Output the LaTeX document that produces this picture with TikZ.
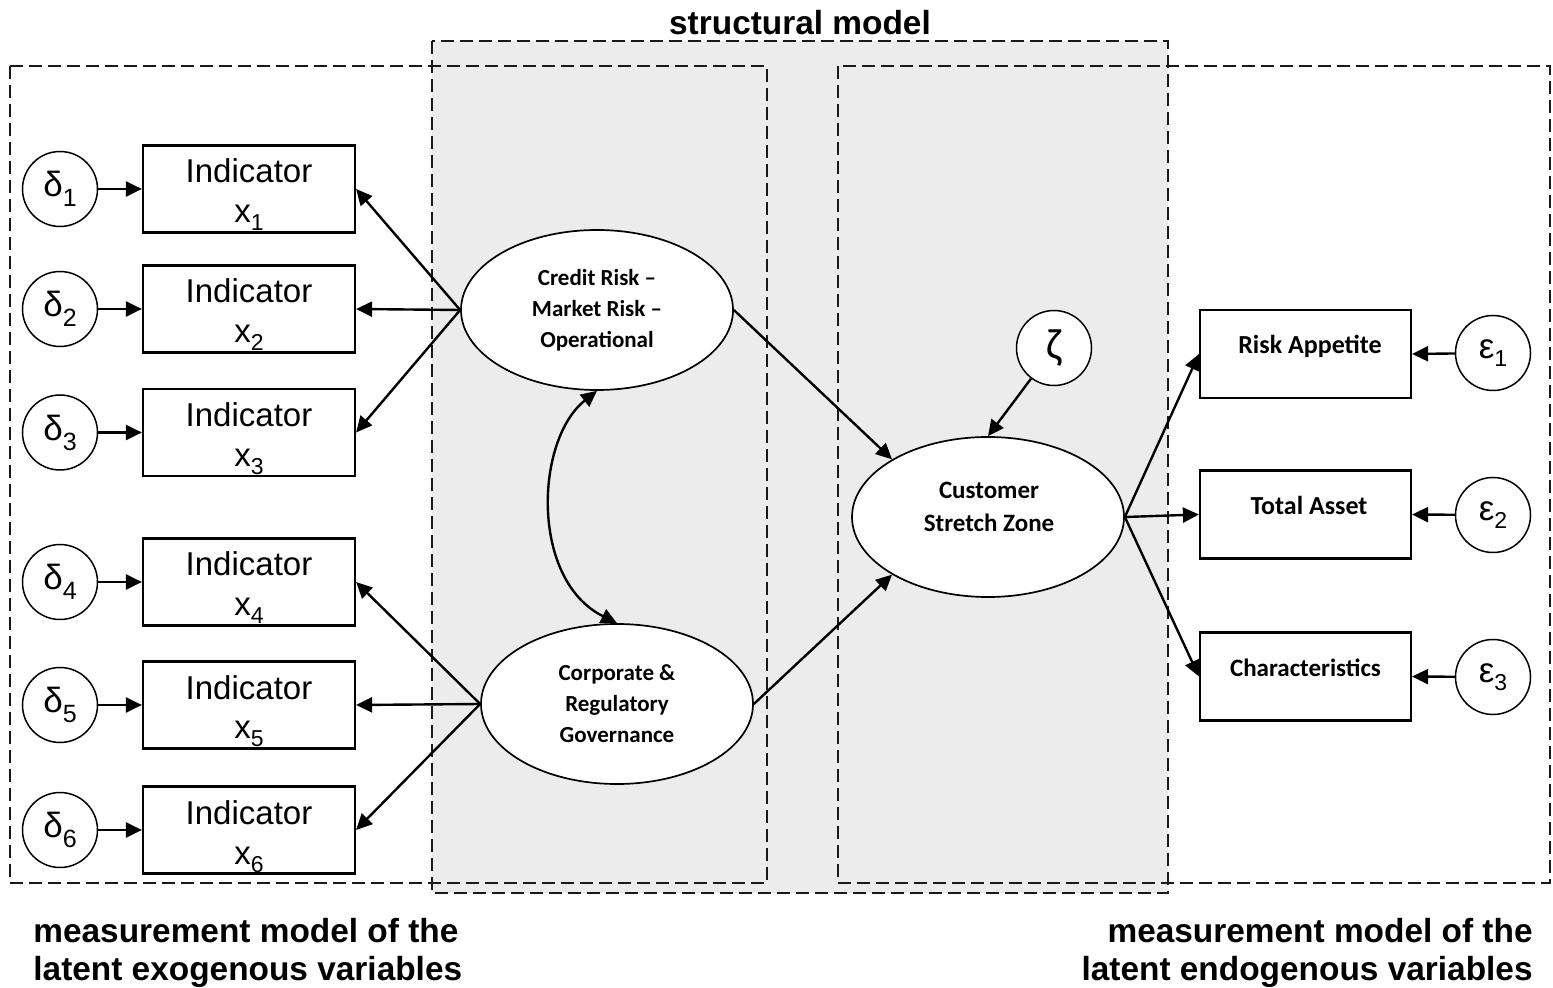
\documentclass[tikz,border=0pt]{standalone}
\usepackage{fontspec}
\setmainfont{Liberation Sans}
\newfontfamily\calibfont{Carlito}
\usetikzlibrary{arrows.meta,shapes.geometric}
\definecolor{panelgray}{RGB}{236,236,236}
% lowered digits for the error terms and the indicator names
\newcommand{\errsub}[1]{\raisebox{-5pt}{\fontsize{12.5}{12.5}\selectfont #1}}
\newcommand{\indsub}[1]{\raisebox{-4pt}{\fontsize{11.5}{11.5}\selectfont #1}}

\begin{document}
\begin{tikzpicture}[x=0.5pt,y=-0.5pt,
  regionbox/.style={draw=black!90, line width=1.15pt, dash pattern=on 6.5pt off 3pt},
  indbox/.style={draw, fill=white, line width=1.1pt, minimum width=106pt, minimum height=43.5pt, inner sep=0pt},
  indtext/.style={inner sep=0pt, font=\fontsize{16.5}{16.5}\selectfont},
  outbox/.style={draw, fill=white, line width=1.1pt, minimum width=105.5pt, minimum height=44pt, inner sep=0pt},
  outtext/.style={inner sep=0pt, anchor=base, font=\calibfont\bfseries\fontsize{13}{13}\selectfont},
  errcirc/.style={draw, fill=white, circle, line width=0.75pt, minimum size=37.5pt, inner sep=0pt, font=\fontsize{17.5}{17.5}\selectfont},
  latent/.style={draw, ellipse, fill=white, line width=0.85pt, minimum width=136pt, minimum height=80pt, inner sep=0pt, align=center},
  latenttext/.style={inner sep=0pt, align=center},
  heading/.style={inner sep=0pt, font=\bfseries\fontsize{16.7}{16.7}\selectfont},
  link/.style={line width=1.2pt, -{Triangle[length=8pt,width=7.5pt]}},
  bilink/.style={line width=1.2pt, {Triangle[length=8pt,width=7.5pt]}-{Triangle[length=8pt,width=7.5pt]}}
]
\useasboundingbox (0,0) rectangle (1553,988);

% structural model panel and the three dashed regions
\fill[panelgray] (432,41) rectangle (1168,893);
\draw[regionbox] (10,66) rectangle (767,883);
\draw[regionbox] (838,66) rectangle (1550,883);
\draw[regionbox] (432,41) rectangle (1168,893);

\node[heading, anchor=base] (structtitle) at (800,35) {structural model};

% exogenous indicators with their error terms
\foreach \i/\yy in {1/189,2/309,3/432.5,4/582,5/705,6/830} {
  \node[indbox] (ind\i) at (249,\yy) {};
  \node[indtext, anchor=base] (indname\i) at ([shift={(0,-6)}]ind\i.center) {Indicator};
  \node[indtext, anchor=base] (indvar\i) at ([shift={(0,34)}]ind\i.center) {x\indsub{\i}};
  \node[errcirc] (d\i) at (60,\yy) {δ\errsub{\i}};
  \draw[link] (d\i) -- (ind\i.west);
}

% latent variables
\node[latent, font=\calibfont\bfseries\fontsize{11.5}{15.5}\selectfont] (cr) at (597,310)
  {Credit Risk –\\Market Risk –\\Operational};
\node[latent, font=\calibfont\bfseries\fontsize{11.5}{15.5}\selectfont] (cg) at (617,704)
  {Corporate \&\\Regulatory\\Governance};
\node[latent] (csz) at (988,517) {};
\node[latenttext, font=\calibfont\bfseries\fontsize{12.5}{16.5}\selectfont] (csztext)
  at ([shift={(1,-10)}]csz.center) {Customer\\Stretch Zone};
\node[errcirc, font=\calibfont\fontsize{22}{22}\selectfont] (zeta) at (1054,348) {ζ};

% endogenous indicators with their error terms
\node[outbox] (ra) at (1305.5,354) {};
\node[outtext] (ratext) at ([shift={(4.5,0)}]ra.center) {Risk Appetite};
\node[outbox] (ta) at (1305.5,514.5) {};
\node[outtext] (tatext) at ([shift={(3.5,0)}]ta.center) {Total Asset};
\node[outbox] (ch) at (1305.5,676.5) {};
\node[outtext, font=\calibfont\bfseries\fontsize{12.5}{12.5}\selectfont] (chtext) at (ch.center) {Characteristics};
\node[errcirc] (e1) at (1493,353) {ε\indsub{1}};
\node[errcirc] (e2) at (1493,515) {ε\indsub{2}};
\node[errcirc] (e3) at (1493,677) {ε\indsub{3}};

% loadings and paths
\foreach \i in {1,2,3} \draw[link] (cr.west) -- (ind\i.east);
\foreach \i in {4,5,6} \draw[link] (cg.west) -- (ind\i.east);
\draw[bilink] (cr.south) .. controls (535,440) and (530,580) .. (cg.north);
\draw[link] (cr.east) -- (csz.149);
\draw[link] (cg.east) -- (csz.211);
\draw[link] (zeta) -- (csz.north);
\draw[link] (csz.east) -- (ra.west);
\draw[link] (csz.east) -- (ta.west);
\draw[link] (csz.east) -- (ch.west);
\draw[link] (e1) -- (ra.east);
\draw[link] (e2) -- (ta.east);
\draw[link] (e3) -- (ch.east);

% region captions
\node[heading, anchor=base west] (exo1) at (33,942) {measurement model of the};
\node[heading, anchor=base west] (exo2) at (33,980) {latent exogenous variables};
\node[heading, anchor=base east] (endo1) at (1533,942) {measurement model of the};
\node[heading, anchor=base east] (endo2) at (1533,980) {latent endogenous variables};
\end{tikzpicture}
\end{document}
